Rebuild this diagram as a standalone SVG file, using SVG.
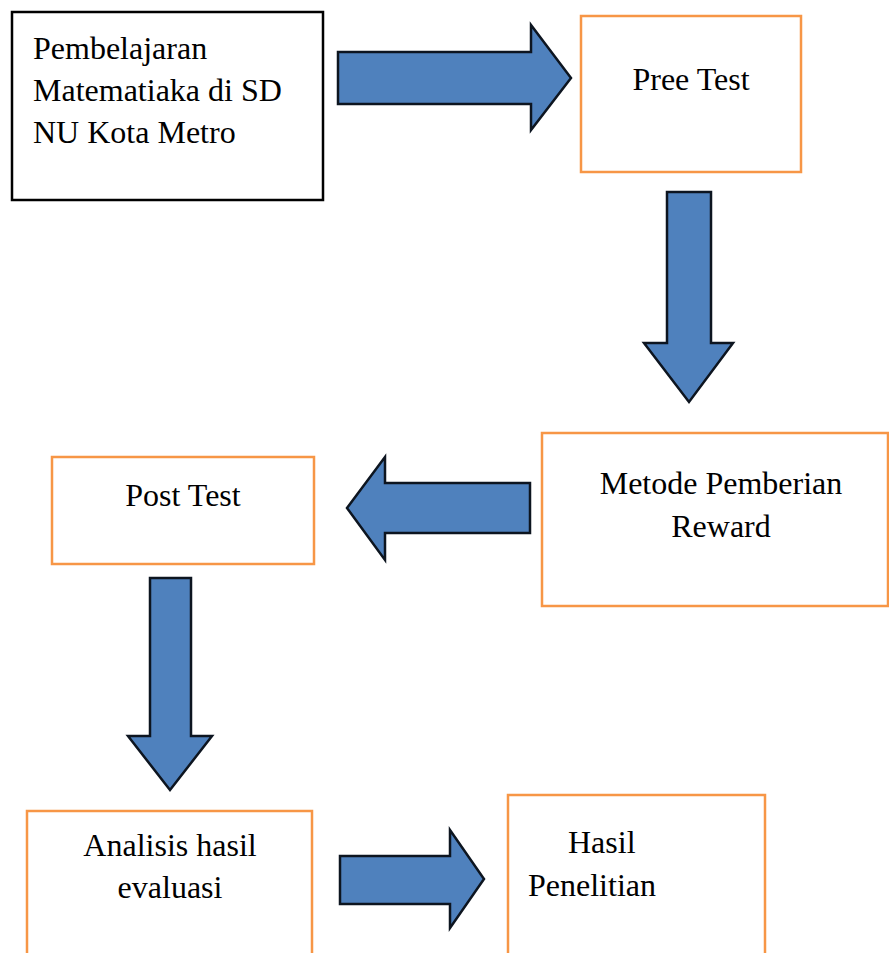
<svg xmlns="http://www.w3.org/2000/svg" width="889" height="953" viewBox="0 0 889 953">
<style>
.box{fill:#fff;stroke:#F79646;stroke-width:2.5}
.boxk{fill:#fff;stroke:#000;stroke-width:2.5}
.arr{fill:#4F81BD;stroke:#0d1520;stroke-width:2.5;stroke-linejoin:miter}
text{font-family:"Liberation Serif","Times New Roman",serif;font-size:32px;fill:#000}
</style>
<rect width="889" height="953" fill="#fff"/>
<g id="n1"><rect class="boxk" x="12" y="12" width="311" height="188"/>
<text x="33" y="59">Pembelajaran</text><text x="33" y="101">Matematiaka di SD</text><text x="33" y="143">NU Kota Metro</text></g>
<g id="n2"><rect class="box" x="581" y="16" width="220" height="156"/>
<text x="691" y="90" text-anchor="middle">Pree Test</text></g>
<g id="n3"><rect class="box" x="542" y="433" width="346" height="173"/>
<text x="721" y="494" text-anchor="middle">Metode Pemberian</text><text x="721" y="537" text-anchor="middle">Reward</text></g>
<g id="n4"><rect class="box" x="52" y="457" width="262" height="107"/>
<text x="183" y="506" text-anchor="middle">Post Test</text></g>
<g id="n5"><rect class="box" x="27" y="811" width="285" height="150"/>
<text x="170" y="856" text-anchor="middle">Analisis hasil</text><text x="170" y="898" text-anchor="middle">evaluasi</text></g>
<g id="n6"><rect class="box" x="508" y="795" width="257" height="170"/>
<text x="568" y="853">Hasil</text><text x="528" y="896">Penelitian</text></g>
<g id="connectors">
<polygon class="arr" points="338,52 531,52 531,25 571,78 531,130 531,104 338,104"/>
<polygon class="arr" points="667,192 711,192 711,343 733,343 689,402 644,343 667,343"/>
<polygon class="arr" points="530,483 385,483 385,457 347,508 385,560 385,533 530,533"/>
<polygon class="arr" points="150,578 191,578 191,736 212,736 170,790 128,736 150,736"/>
<polygon class="arr" points="340,856 450,856 450,830 484,879 450,928 450,904 340,904"/>
</g>
</svg>
